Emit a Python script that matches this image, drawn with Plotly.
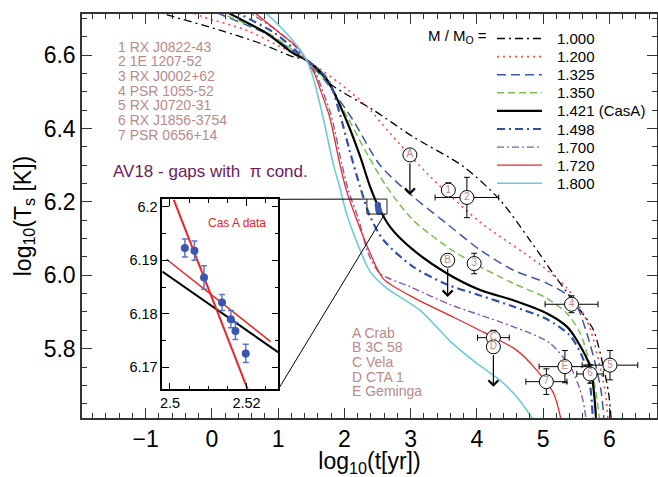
import plotly.graph_objects as go

W, H = 658, 477
ML, MR, MT, MB = 82, 1, 14, 59
X_RANGE = [-1.96, 6.72]
Y_RANGE = [5.611, 6.712]
INSET_X_RANGE = [2.498, 2.5283]
INSET_Y_RANGE = [6.1659, 6.2014]
INSET_PX = (162.3, 278.3, 199.3, 389.3)  # left, right, top, bottom (pixels)

FONT = "Liberation Sans, Arial, Helvetica, sans-serif"
ROSE = "#b98a8a"


def px_to_paper(px, py):
    return (px - ML) / (W - ML - MR), (H - MB - py) / (H - MT - MB)


def data_to_paper(x, y):
    return ((x - X_RANGE[0]) / (X_RANGE[1] - X_RANGE[0]),
            (y - Y_RANGE[0]) / (Y_RANGE[1] - Y_RANGE[0]))


# ---------------- cooling curves: log10(t[yr]) vs log10(Ts[K]) ----------------
t_1000 = [-1.2, -0.66, 0.12, 0.73, 1.23, 1.43, 1.8, 2.44, 3.04, 3.8, 4.35, 4.8, 5.21, 5.56, 5.76, 5.91, 5.99, 6.04]
T_1000 = [6.74, 6.709, 6.668, 6.632, 6.595, 6.586, 6.52, 6.45, 6.377, 6.296, 6.205, 6.096, 5.99, 5.905, 5.851, 5.751, 5.678, 5.58]

t_1200 = [-0.6, -0.13, 0.52, 1.13, 1.43, 1.93, 2.34, 2.69, 3.29, 4.05, 4.95, 5.36, 5.53, 5.71, 5.86, 5.94, 5.99]
T_1200 = [6.74, 6.704, 6.668, 6.614, 6.586, 6.523, 6.46, 6.387, 6.27, 6.145, 6.03, 5.965, 5.92, 5.855, 5.751, 5.679, 5.58]

t_1325 = [-0.3, 0.15, 0.8, 1.2, 1.43, 1.78, 2.13, 2.54, 3.04, 3.55, 4.05, 4.55, 5.06, 5.46, 5.66, 5.80, 5.88, 5.93]
T_1325 = [6.75, 6.71, 6.66, 6.615, 6.586, 6.514, 6.423, 6.30, 6.214, 6.14, 6.069, 6.014, 5.978, 5.932, 5.842, 5.75, 5.68, 5.58]

t_1350 = [-0.2, 0.2, 0.85, 1.2, 1.43, 1.75, 2.05, 2.34, 2.64, 3.04, 3.55, 3.96, 4.55, 5.06, 5.36, 5.56, 5.72, 5.80, 5.87]
T_1350 = [6.75, 6.71, 6.66, 6.617, 6.586, 6.525, 6.43, 6.332, 6.241, 6.15, 6.078, 6.032, 5.978, 5.937, 5.896, 5.842, 5.75, 5.68, 5.58]

t_1421 = [-0.1, 0.27, 0.83, 1.23, 1.43, 1.73, 2.03, 2.24, 2.39, 2.52, 2.69, 3.04, 3.55, 4.05, 4.55, 5.06, 5.36, 5.51, 5.71, 5.77, 5.81]
T_1421 = [6.75, 6.713, 6.659, 6.605, 6.586, 6.535, 6.423, 6.323, 6.241, 6.185, 6.132, 6.069, 6.005, 5.96, 5.932, 5.896, 5.86, 5.823, 5.751, 5.678, 5.58]

t_1498 = [0.1, 0.45, 0.95, 1.25, 1.43, 1.62, 1.78, 1.93, 2.08, 2.24, 2.39, 2.59, 3.04, 3.55, 4.05, 4.55, 5.06, 5.41, 5.61, 5.71, 5.76]
T_1498 = [6.75, 6.71, 6.66, 6.615, 6.586, 6.56, 6.525, 6.441, 6.34, 6.24, 6.16, 6.096, 6.023, 5.975, 5.945, 5.915, 5.88, 5.835, 5.77, 5.70, 5.58]

t_1700 = [0.3, 0.62, 1.0, 1.28, 1.43, 1.57, 1.66, 1.81, 1.96, 2.06, 2.22, 2.36, 2.54, 2.99, 3.60, 4.35, 4.90, 5.11, 5.41, 5.56, 5.63, 5.66]
T_1700 = [6.75, 6.71, 6.665, 6.62, 6.586, 6.55, 6.51, 6.43, 6.305, 6.232, 6.15, 6.06, 6.005, 5.969, 5.92, 5.873, 5.835, 5.814, 5.751, 5.687, 5.633, 5.58]

t_1720 = [0.4, 0.67, 1.03, 1.3, 1.43, 1.55, 1.63, 1.78, 1.93, 2.03, 2.19, 2.39, 2.59, 3.09, 3.60, 4.10, 4.60, 4.90, 5.16, 5.30]
T_1720 = [6.75, 6.712, 6.659, 6.62, 6.586, 6.55, 6.51, 6.43, 6.305, 6.232, 6.15, 6.06, 5.99, 5.935, 5.89, 5.845, 5.796, 5.742, 5.678, 5.58]

t_1800 = [0.55, 0.83, 1.13, 1.33, 1.43, 1.52, 1.6, 1.68, 1.83, 1.93, 2.03, 2.19, 2.39, 2.64, 3.14, 3.60, 4.0, 4.35, 4.62, 4.95]
T_1800 = [6.75, 6.712, 6.659, 6.615, 6.586, 6.545, 6.49, 6.43, 6.305, 6.241, 6.17, 6.09, 6.01, 5.965, 5.905, 5.82, 5.76, 5.714, 5.665, 5.58]

mass_labels = ["1.000", "1.200", "1.325", "1.350", "1.421 (CasA)", "1.498", "1.700", "1.720", "1.800"]

# ---------------- observed sources ----------------
src_labels = ["1", "2", "3", "4", "5", "6", "7", "A", "B", "C", "D", "E"]
src_t = [3.57, 3.85, 3.96, 5.43, 6.01, 5.71, 5.05, 2.99, 3.56, 4.25, 4.25, 5.33]
src_T = [6.232, 6.212, 6.032, 5.921, 5.755, 5.731, 5.71, 6.328, 6.041, 5.83, 5.805, 5.751]
src_terr = [0, 0.48, 0, 0.40, 0.42, 0.20, 0.31, 0, 0, 0.24, 0, 0.39]
src_Terr = [0.02, 0.055, 0.028, 0.023, 0.04, 0.025, 0.035, 0, 0, 0.02, 0, 0.044]

# upper limits (arrows)
lim_labels = ["A", "B", "D"]
lim_t = [2.99, 3.56, 4.25]
lim_from = [6.328, 6.041, 5.805]
lim_to = [6.219, 5.941, 5.696]

src_names_num = ["1 RX J0822-43", "2 1E 1207-52", "3 RX J0002+62", "4 PSR 1055-52",
                 "5 RX J0720-31", "6 RX J1856-3754", "7 PSR 0656+14"]
src_names_let = ["A Crab", "B 3C 58", "C Vela", "D CTA 1", "E Geminga"]

# ---------------- Cas A data (inset) ----------------
casa_t = [2.5039, 2.5064, 2.5089, 2.5136, 2.5159, 2.5171, 2.5198]
casa_T = [6.1923, 6.1918, 6.1868, 6.1821, 6.1790, 6.1768, 6.1726]
casa_err = [0.0017, 0.0018, 0.0022, 0.0015, 0.0016, 0.0016, 0.0017]

fit_steep_t = [2.5010, 2.5203]
fit_steep_T = [6.2013, 6.1659]
fit_shallow_t = [2.4991, 2.5263]
fit_shallow_T = [6.1902, 6.1748]
model_t = [2.4980, 2.5283]
model_T = [6.1879, 6.1728]

# zoom box in main panel (data coords)
box_t = [2.341, 2.644]
box_T = [6.1668, 6.2076]

curves = [
    (t_1000, T_1000, dict(color="black", width=1.3, dash="8px,4px,2px,4px")),
    (t_1200, T_1200, dict(color="#ff4848", width=1.6, dash="2px,4px")),
    (t_1325, T_1325, dict(color="#3858a8", width=1.5, dash="9px,5px")),
    (t_1350, T_1350, dict(color="#78c050", width=1.5, dash="7px,4px")),
    (t_1421, T_1421, dict(color="black", width=2.2, dash="solid")),
    (t_1498, T_1498, dict(color="#3050a8", width=2.2, dash="8px,4px,2px,4px")),
    (t_1700, T_1700, dict(color="#8a58b0", width=1.4, dash="7px,3px,2px,3px")),
    (t_1720, T_1720, dict(color="#e82828", width=1.3, dash="solid")),
    (t_1800, T_1800, dict(color="#6ccad8", width=1.6, dash="solid")),
]

fig = go.Figure()

for (tx, ty, ln), lab in zip(curves, mass_labels):
    fig.add_trace(go.Scatter(x=tx, y=ty, mode="lines", line=dict(shape="spline", smoothing=0.8, **ln),
                             name=lab, showlegend=False, hoverinfo="skip"))

# Cas A points in the main panel
fig.add_trace(go.Scatter(x=casa_t, y=casa_T, mode="markers",
                         marker=dict(color="#3a56b0", size=6), showlegend=False))

# sources with error bars
fig.add_trace(go.Scatter(
    x=src_t, y=src_T, mode="markers+text", text=src_labels,
    textposition="middle center", textfont=dict(family=FONT, size=10, color=ROSE),
    marker=dict(symbol="circle", size=14, color="white", line=dict(color="black", width=1)),
    error_x=dict(type="data", array=src_terr, color="black", thickness=1, width=3),
    error_y=dict(type="data", array=src_Terr, color="black", thickness=1, width=3),
    showlegend=False, cliponaxis=False))

# inset traces
fig.add_trace(go.Scatter(x=model_t, y=model_T, mode="lines", line=dict(color="black", width=2),
                         xaxis="x2", yaxis="y2", showlegend=False))
fig.add_trace(go.Scatter(x=fit_shallow_t, y=fit_shallow_T, mode="lines", line=dict(color="#ee2222", width=1.5),
                         xaxis="x2", yaxis="y2", showlegend=False))
fig.add_trace(go.Scatter(x=fit_steep_t, y=fit_steep_T, mode="lines", line=dict(color="#ee2222", width=2),
                         xaxis="x2", yaxis="y2", showlegend=False))
fig.add_trace(go.Scatter(x=casa_t, y=casa_T, mode="markers", xaxis="x2", yaxis="y2",
                         marker=dict(color="#3a56b0", size=8),
                         error_y=dict(type="data", array=casa_err, color="#5a78c8", thickness=1.5, width=3),
                         showlegend=False))

shapes = []
annotations = []

# upper-limit arrows
for lt, lf, lto in zip(lim_t, lim_from, lim_to):
    annotations.append(dict(x=lt, y=lto, ax=lt, ay=lf, xref="x", yref="y", axref="x", ayref="y",
                            text="", showarrow=True, arrowhead=4, arrowsize=1.6, arrowwidth=1.2,
                            arrowcolor="black", startstandoff=7))

# zoom box and connectors
shapes.append(dict(type="rect", xref="x", yref="y", x0=box_t[0], x1=box_t[1], y0=box_T[0], y1=box_T[1],
                   line=dict(color="#222", width=1)))
ix0, iy0 = px_to_paper(INSET_PX[0], INSET_PX[3])
ix1, iy1 = px_to_paper(INSET_PX[1], INSET_PX[2])
bx0, by1 = data_to_paper(box_t[0], box_T[1])
bx1, by0 = data_to_paper(box_t[1], box_T[0])
shapes.append(dict(type="line", xref="paper", yref="paper", x0=ix1, y0=iy1, x1=bx0, y1=by1,
                   line=dict(color="black", width=1)))
shapes.append(dict(type="line", xref="paper", yref="paper", x0=ix1, y0=iy0, x1=bx1 - 0.004, y1=by0,
                   line=dict(color="black", width=1)))

# manual legend
px_l0, px_l1, px_txt = 497, 542, 555
for i, ((tx, ty, ln), lab) in enumerate(zip(curves, mass_labels)):
    py = 38.5 + 18.1 * i
    x0, yy = px_to_paper(px_l0, py)
    x1, _ = px_to_paper(px_l1, py)
    xt, _ = px_to_paper(px_txt, py)
    shapes.append(dict(type="line", xref="paper", yref="paper", x0=x0, x1=x1, y0=yy, y1=yy,
                       line=dict(color=ln["color"], width=ln["width"], dash=ln["dash"])))
    annotations.append(dict(x=xt, y=yy, xref="paper", yref="paper", text=lab, showarrow=False,
                            xanchor="left", yanchor="middle", font=dict(family=FONT, size=15, color="black")))
mx, my = px_to_paper(489, 36)
annotations.append(dict(x=mx, y=my, xref="paper", yref="paper", text="M / M<sub>O</sub> =", showarrow=False,
                        xanchor="right", yanchor="middle", font=dict(family=FONT, size=15, color="black")))

# source lists
for i, s in enumerate(src_names_num):
    xx, yy = px_to_paper(116, 46.7 + 14.7 * i)
    annotations.append(dict(x=xx, y=yy, xref="paper", yref="paper", text=s, showarrow=False,
                            xanchor="left", yanchor="middle", font=dict(family=FONT, size=14, color=ROSE)))
for i, s in enumerate(src_names_let):
    xx, yy = px_to_paper(350, 332.7 + 14.6 * i)
    annotations.append(dict(x=xx, y=yy, xref="paper", yref="paper", text=s, showarrow=False,
                            xanchor="left", yanchor="middle", font=dict(family=FONT, size=14, color=ROSE)))

xx, yy = px_to_paper(111, 171)
annotations.append(dict(x=xx, y=yy, xref="paper", yref="paper", text="AV18 - gaps with  \u03c0 cond.",
                        showarrow=False, xanchor="left", yanchor="middle",
                        font=dict(family=FONT, size=17, color="#6e1a5b")))

annotations.append(dict(x=2.5174, y=6.197, xref="x2", yref="y2", text="Cas A data", showarrow=False,
                        xanchor="center", yanchor="middle", font=dict(family=FONT, size=12, color="#ee2222")))

axis_common = dict(showline=True, linecolor="#333", linewidth=1.5, mirror="allticks", ticks="inside",
                   tickcolor="#333", showgrid=False, zeroline=False)

fig.update_layout(
    width=W, height=H, margin=dict(l=ML, r=MR, t=MT, b=MB, autoexpand=False),
    paper_bgcolor="white", plot_bgcolor="white", showlegend=False,
    font=dict(family=FONT, color="black"),
    xaxis=dict(range=X_RANGE, dtick=1, tick0=0, ticklen=10, tickwidth=1.3,
               minor=dict(ticks="inside", dtick=0.2, ticklen=5, tickcolor="#333", tickwidth=1),
               tickfont=dict(size=23), title=dict(text="log<sub>10</sub>(t[yr])", font=dict(size=23), standoff=4),
               **axis_common),
    yaxis=dict(range=Y_RANGE, dtick=0.2, tick0=5.8, tickformat=".1f", ticklen=10, tickwidth=1.3,
               minor=dict(ticks="inside", dtick=0.05, ticklen=5, tickcolor="#333", tickwidth=1),
               tickfont=dict(size=23), title=dict(text="log<sub>10</sub>(T<sub>s</sub> [K])", font=dict(size=23), standoff=6),
               **axis_common),
    xaxis2=dict(domain=[ix0, ix1], anchor="y2", range=INSET_X_RANGE, tickvals=[2.5, 2.52], ticktext=["2.5", "2.52"],
                ticklen=7, tickwidth=1.2,
                minor=dict(ticks="inside", dtick=0.005, tick0=2.5, ticklen=4, tickcolor="black"),
                tickfont=dict(size=14.5), showline=True, linecolor="black", linewidth=1.5, mirror="allticks",
                ticks="inside", tickcolor="black", showgrid=False, zeroline=False),
    yaxis2=dict(domain=[iy0, iy1], anchor="x2", range=INSET_Y_RANGE, tickvals=[6.17, 6.18, 6.19, 6.2],
                ticktext=["6.17", "6.18", "6.19", "6.2"], ticklen=7, tickwidth=1.2,
                minor=dict(ticks="inside", dtick=0.005, tick0=6.17, ticklen=4, tickcolor="black"),
                tickfont=dict(size=14.5), showline=True, linecolor="black", linewidth=1.5, mirror="allticks",
                ticks="inside", tickcolor="black", showgrid=False, zeroline=False),
    shapes=shapes, annotations=annotations,
)

fig.write_html("out.html")
